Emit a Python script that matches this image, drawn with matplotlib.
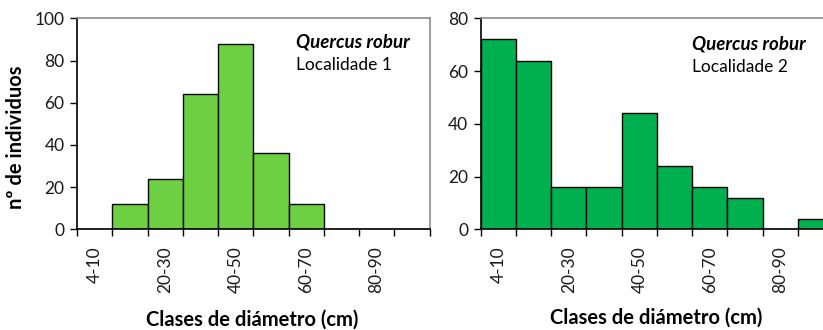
import matplotlib
matplotlib.use("Agg")
import matplotlib.pyplot as plt
import numpy as np

plt.rcParams['font.family'] = ['Lato', 'DejaVu Sans']

classes = ["4-10", "10-20", "20-30", "30-40", "40-50",
           "50-60", "60-70", "70-80", "80-90", "90-100"]
shown_labels = ["4-10", "20-30", "40-50", "60-70", "80-90"]
loc1_counts = [0, 12, 24, 64, 88, 36, 12, 0, 0, 0]
loc2_counts = [72, 64, 16, 16, 44, 24, 16, 12, 0, 4]

species = "Quercus robur"
site_names = ["Localidade 1", "Localidade 2"]
y_limits = [100, 80]
colors = ["#6DD043", "#00B04F"]

W, H = 823, 330
fig = plt.figure(figsize=(W / 100, H / 100), dpi=100)

def px_axes(x0, y0, x1, y1):
    return fig.add_axes([x0 / W, 1 - y1 / H, (x1 - x0) / W, (y1 - y0) / H])

ax1 = px_axes(77, 18.3, 429.5, 229.3)
ax2 = px_axes(480.7, 18.3, 833.2, 229.3)

for ax, counts, ymax, color, site in zip(
        [ax1, ax2], [loc1_counts, loc2_counts], y_limits, colors, site_names):
    x = np.arange(len(classes))
    ax.bar(x, counts, width=1.0, align='edge', color=color,
           edgecolor='black', linewidth=1.0, zorder=2)
    ax.set_xlim(0, len(classes))
    ax.set_ylim(0, ymax)
    ax.set_yticks(np.arange(0, ymax + 1, 20))
    ax.set_xticks(np.arange(len(classes) + 1))
    ax.set_xticklabels([])
    centers = [classes.index(c) + 0.5 for c in shown_labels]
    ax.set_xticks(centers, minor=True)
    ax.set_xticklabels(shown_labels, minor=True, rotation=90, fontsize=12.5,
                       color='#1a1a1a')
    ax.tick_params(axis='x', which='minor', length=0, pad=12)
    ax.tick_params(axis='x', which='major', length=5, width=1.0,
                   direction='out', color='black')
    ax.tick_params(axis='y', length=5, width=1.0, direction='out',
                   labelsize=12.5, labelcolor='#1a1a1a', pad=4)
    for side in ['left', 'bottom']:
        ax.spines[side].set_color('black')
        ax.spines[side].set_linewidth(1.2)
    for side in ['top', 'right']:
        ax.spines[side].set_color('#8c8c8c')
        ax.spines[side].set_linewidth(1.2)

fig.text(252 / W, 1 - 320 / H, "Clases de diámetro (cm)", fontsize=14.5,
         fontweight='bold', va='center', ha='center')
fig.text(656 / W, 1 - 318 / H, "Clases de diámetro (cm)", fontsize=14.5,
         fontweight='bold', va='center', ha='center')

fig.text(296 / W, 1 - 42 / H, species, fontsize=13.5, fontweight='bold',
         style='italic', va='center', ha='left')
fig.text(296 / W, 1 - 65 / H, site_names[0], fontsize=12.5, va='center',
         ha='left')
fig.text(692 / W, 1 - 44 / H, species, fontsize=13.5, fontweight='bold',
         style='italic', va='center', ha='left')
fig.text(692 / W, 1 - 67 / H, site_names[1], fontsize=12.5, va='center',
         ha='left')

fig.text(16 / W, 1 - 137 / H, "nº de individuos", rotation=90, fontsize=14.5,
         fontweight='bold', va='center', ha='center')

fig.savefig("out.png", dpi=100)
